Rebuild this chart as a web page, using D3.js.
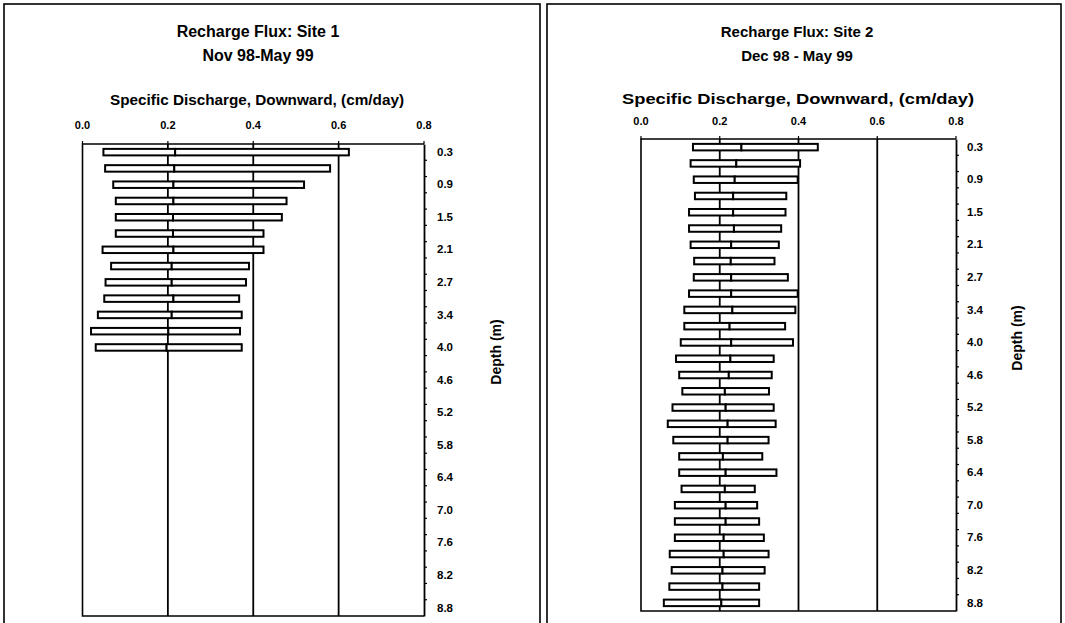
<!DOCTYPE html>
<html>
<head>
<meta charset="utf-8">
<script src="https://cdn.jsdelivr.net/npm/d3@7/dist/d3.min.js"></script>
<style>
  html, body { margin: 0; padding: 0; background: #fff; }
  svg { display: block; }
  text { font-family: "Liberation Sans", Arial, sans-serif; font-weight: bold; fill: #000; }
</style>
</head>
<body>
<svg id="chart" width="1065" height="623"></svg>
<script>
// Depth of each piezometer (m), 1 ft spacing
const depths = ["0.3","0.6","0.9","1.2","1.5","1.8","2.1","2.4","2.7","3.0",
                "3.4","3.7","4.0","4.3","4.6","4.9","5.2","5.5","5.8","6.1",
                "6.4","6.7","7.0","7.3","7.6","7.9","8.2","8.5","8.8"];
// Depth labels shown on the axis (every other depth)
const depthTickLabels = ["0.3","0.9","1.5","2.1","2.7","3.4","4.0","4.6","5.2","5.8","6.4","7.0","7.6","8.2","8.8"];
// Discharge axis ticks (cm/day)
const fluxTicks = [0.0, 0.2, 0.4, 0.6, 0.8];
const fluxGrid = [0.2, 0.4, 0.6];

// Site 1: minimum, mean and maximum specific discharge (cm/day)
const site1Depths = depths.slice(0, 13);
const site1Min  = [0.049, 0.053, 0.072, 0.078, 0.078, 0.078, 0.047, 0.067, 0.054, 0.051, 0.036, 0.020, 0.031];
const site1Mean = [0.217, 0.215, 0.213, 0.213, 0.212, 0.212, 0.213, 0.209, 0.209, 0.213, 0.209, 0.201, 0.197];
const site1Max  = [0.624, 0.580, 0.519, 0.478, 0.467, 0.424, 0.424, 0.390, 0.383, 0.367, 0.373, 0.369, 0.373];

// Site 2: minimum, mean and maximum specific discharge (cm/day)
const site2Depths = depths.slice();
const site2Min  = [0.132, 0.126, 0.134, 0.137, 0.122, 0.122, 0.126, 0.135, 0.134, 0.122,
                   0.110, 0.110, 0.101, 0.089, 0.097, 0.105, 0.080, 0.068, 0.082, 0.097,
                   0.097, 0.103, 0.086, 0.086, 0.086, 0.073, 0.078, 0.072, 0.058];
const site2Mean = [0.255, 0.242, 0.238, 0.234, 0.234, 0.236, 0.229, 0.228, 0.229, 0.229,
                   0.232, 0.225, 0.229, 0.227, 0.223, 0.213, 0.215, 0.220, 0.220, 0.208,
                   0.215, 0.213, 0.215, 0.215, 0.210, 0.210, 0.207, 0.207, 0.204];
const site2Max  = [0.449, 0.404, 0.398, 0.369, 0.367, 0.356, 0.350, 0.339, 0.373, 0.398,
                   0.392, 0.366, 0.386, 0.337, 0.332, 0.325, 0.337, 0.342, 0.324, 0.308,
                   0.344, 0.289, 0.295, 0.300, 0.312, 0.324, 0.314, 0.300, 0.300];

const svg = d3.select("#chart");

const panels = [
  {
    box: [4, 4, 540, 640],
    plot: { left: 82.5, right: 424, top: 144, bottom: 616 },
    title: ["Recharge Flux: Site 1", "Nov 98-May 99"],
    titleSize: 16, titleX: 258, titleY: [33, 57],
    axisTitleSize: 15, axisTitleLen: 294, axisTitleX: 257, axisTitleY: 101, tickY: 126,
    labelX: 445, depthTitleX: 497, depthTitleY: 352,
    depths: site1Depths, min: site1Min, mean: site1Mean, max: site1Max
  },
  {
    box: [547, 4, 1061, 640],
    plot: { left: 641, right: 956, top: 139, bottom: 611 },
    title: ["Recharge Flux: Site 2", "Dec 98 - May 99"],
    titleSize: 15, titleX: 797, titleY: [33, 57],
    axisTitleSize: 14.5, axisTitleLen: 352, axisTitleX: 798, axisTitleY: 100, tickY: 122,
    labelX: 975, depthTitleX: 1018, depthTitleY: 338,
    depths: site2Depths, min: site2Min, mean: site2Mean, max: site2Max
  }
];

panels.forEach(p => {
  const g = svg.append("g");
  const P = p.plot;

  // outer frame of the panel
  g.append("rect")
    .attr("x", p.box[0]).attr("y", p.box[1])
    .attr("width", p.box[2] - p.box[0]).attr("height", p.box[3] - p.box[1])
    .attr("fill", "none").attr("stroke", "#000").attr("stroke-width", 1.6);

  const x = d3.scaleLinear().domain([0, 0.8]).range([P.left, P.right]);
  const y = d3.scaleBand().domain(depths).range([P.top, P.bottom]).padding(0);

  // titles
  p.title.forEach((t, i) => {
    g.append("text").attr("x", p.titleX).attr("y", p.titleY[i])
      .attr("text-anchor", "middle").attr("dominant-baseline", "middle")
      .style("font-size", p.titleSize + "px").text(t);
  });
  g.append("text").attr("x", p.axisTitleX).attr("y", p.axisTitleY)
    .attr("text-anchor", "middle").attr("dominant-baseline", "middle")
    .attr("textLength", p.axisTitleLen).attr("lengthAdjust", "spacingAndGlyphs")
    .style("font-size", p.axisTitleSize + "px").text("Specific Discharge, Downward, (cm/day)");

  // discharge tick labels along the top
  g.selectAll(".xt").data(fluxTicks).enter().append("text")
    .attr("x", d => x(d)).attr("y", p.tickY)
    .attr("text-anchor", "middle").attr("dominant-baseline", "middle")
    .style("font-size", "11px").text(d => d3.format(".1f")(d));

  // vertical grid lines
  g.selectAll(".grid").data(fluxGrid).enter().append("line")
    .attr("x1", d => x(d)).attr("x2", d => x(d))
    .attr("y1", P.top).attr("y2", P.bottom)
    .attr("stroke", "#000").attr("stroke-width", 1.8);

  // top ticks
  g.selectAll(".ttk").data(fluxTicks).enter().append("line")
    .attr("x1", d => x(d)).attr("x2", d => x(d))
    .attr("y1", P.top - 3).attr("y2", P.top)
    .attr("stroke", "#000").attr("stroke-width", 1.2);

  // plot frame: top, left, bottom
  g.append("path")
    .attr("d", `M${P.right},${P.top}H${P.left}V${P.bottom}H${P.right}`)
    .attr("fill", "none").attr("stroke", "#000").attr("stroke-width", 1.6);

  // depth axis on the right
  const yAxis = d3.axisRight(y)
    .tickValues(depthTickLabels)
    .tickSize(0).tickPadding(0);
  const ax = g.append("g").attr("transform", `translate(${P.right},0)`).call(yAxis);
  ax.select(".domain").attr("stroke", "#000").attr("stroke-width", 1.8);
  ax.selectAll("text").attr("x", p.labelX - P.right).attr("text-anchor", "middle")
    .style("font-size", "11.5px").style("font-family", "'Liberation Sans', Arial, sans-serif")
    .style("font-weight", "bold");

  // small ticks between depths
  const bounds = depths.map(d => y(d)).slice(1);
  g.selectAll(".ytk").data(bounds).enter().append("line")
    .attr("x1", P.right).attr("x2", P.right + 3)
    .attr("y1", d => d).attr("y2", d => d)
    .attr("stroke", "#000").attr("stroke-width", 1.2);

  g.append("text")
    .attr("transform", `translate(${p.depthTitleX},${p.depthTitleY}) rotate(-90)`)
    .attr("text-anchor", "middle").attr("dominant-baseline", "middle")
    .style("font-size", "14px").text("Depth (m)");

  // floating bars: minimum to mean, mean to maximum
  const barH = 6.5;
  const rows = p.depths.map((d, i) => ({ depth: d, lo: p.min[i], mid: p.mean[i], hi: p.max[i] }));
  const segs = [];
  rows.forEach(r => {
    segs.push({ depth: r.depth, a: r.lo, b: r.mid });
    segs.push({ depth: r.depth, a: r.mid, b: r.hi });
  });
  g.selectAll(".bar").data(segs).enter().append("rect")
    .attr("x", d => x(d.a))
    .attr("width", d => x(d.b) - x(d.a))
    .attr("y", d => y(d.depth) + y.bandwidth() / 2 - barH / 2)
    .attr("height", barH)
    .attr("fill", "#fff").attr("stroke", "#000").attr("stroke-width", 2);
});
</script>
</body>
</html>
